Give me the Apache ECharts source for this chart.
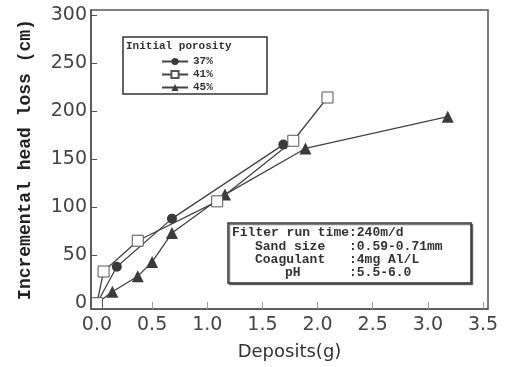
<!DOCTYPE html>
<html>
<head>
<meta charset="utf-8">
<script src="https://cdn.jsdelivr.net/npm/echarts@6/dist/echarts.min.js"></script>
<style>
  html, body { margin: 0; padding: 0; background: #fff; }
  #chart { width: 508px; height: 367px; }
</style>
</head>
<body>
<div id="chart"></div>
<script>
"use strict";

// deposits (g) vs incremental head loss (cm)
var por37 = [[0, 0], [0.18, 38], [0.68, 88], [1.69, 165]];
var por41 = [[0, 0], [0.06, 33], [0.37, 65], [1.09, 106], [1.78, 169], [2.09, 214]];
var por45 = [[0, 0], [0.14, 12], [0.37, 28], [0.50, 43], [0.68, 73], [1.16, 113], [1.89, 161], [3.18, 194]];
var seriesNames = ['37%', '41%', '45%'];
var xTicks = [0, 0.5, 1.0, 1.5, 2.0, 2.5, 3.0, 3.5];
var yTicks = [0, 50, 100, 150, 200, 250, 300];

var mono = '"Liberation Mono", "DejaVu Sans Mono", monospace';
var sans = '"DejaVu Sans", sans-serif';
var ink = '#333';

var dom = document.getElementById("chart");
var myChart = echarts.init(dom);

var option = {
    animation: false,
    backgroundColor: '#fff',
    grid: {
        left: 91,
        right: 20,
        top: 10,
        bottom: 58,
        show: true,
        borderColor: '#555',
        borderWidth: 1.5
    },
    legend: {
        orient: 'vertical',
        left: 156,
        top: 51,
        itemGap: 2,
        itemWidth: 26,
        itemHeight: 9,
        data: seriesNames,
        textStyle: { fontFamily: mono, fontWeight: 'bold', fontSize: 11, color: ink }
    },
    xAxis: {
        type: 'value',
        min: -0.054,
        max: 3.545,
        name: 'Deposits(g)',
        nameLocation: 'middle',
        nameGap: 34,
        nameTextStyle: { fontFamily: sans, fontSize: 18, color: '#333' },
        axisLine: { onZero: false, lineStyle: { color: '#555', width: 1.5 } },
        axisTick: { inside: true, length: 7, customValues: xTicks, lineStyle: { color: '#999' } },
        splitLine: { show: false },
        axisLabel: {
            margin: 7,
            fontFamily: sans,
            fontSize: 19,
            color: '#444',
            customValues: xTicks,
            formatter: function (v) { return v.toFixed(1); }
        }
    },
    yAxis: {
        type: 'value',
        min: -6,
        max: 305,
        name: 'Incremental head loss (cm)',
        nameLocation: 'middle',
        nameGap: 57,
        nameTextStyle: { fontFamily: mono, fontWeight: 'bold', fontSize: 18, color: '#222' },
        axisLine: { onZero: false, lineStyle: { color: '#555', width: 1.5 } },
        axisTick: { inside: true, length: 6, customValues: yTicks, lineStyle: { color: '#555' } },
        splitLine: { show: false },
        axisLabel: {
            margin: 4,
            fontFamily: sans,
            fontSize: 19,
            color: '#444',
            customValues: yTicks
        }
    },
    series: [
        {
            name: seriesNames[0],
            type: 'line',
            data: por37,
            symbol: 'circle',
            symbolSize: 10,
            itemStyle: { color: '#3a3a3a' },
            lineStyle: { color: '#444', width: 1.3 },
            z: 3
        },
        {
            name: seriesNames[1],
            type: 'line',
            data: por41,
            symbol: 'rect',
            symbolSize: 11,
            itemStyle: { color: '#fff', borderColor: '#555', borderWidth: 1 },
            lineStyle: { color: '#444', width: 1.3 },
            z: 4
        },
        {
            name: seriesNames[2],
            type: 'line',
            data: por45,
            symbol: 'triangle',
            symbolSize: 12,
            itemStyle: { color: '#3a3a3a' },
            lineStyle: { color: '#444', width: 1.3 },
            z: 2
        }
    ],
    graphic: [
        // legend frame and title
        {
            type: 'rect',
            shape: { x: 123, y: 37, width: 144, height: 57 },
            style: { fill: 'rgba(0,0,0,0)', stroke: '#333', lineWidth: 1.5 },
            z: 10
        },
        {
            type: 'text',
            left: 126,
            top: 41,
            style: { text: 'Initial porosity', font: 'bold 11px ' + mono, fill: ink },
            z: 10
        },
        // run condition box
        {
            type: 'rect',
            shape: { x: 228, y: 223, width: 243, height: 60 },
            style: { fill: '#fff', stroke: '#333', lineWidth: 1.5, shadowColor: 'rgba(0,0,0,0.5)', shadowOffsetX: 1.5, shadowOffsetY: 1.5 },
            z: 10
        },
        {
            type: 'text',
            left: 232,
            top: 226,
            style: { text: 'Filter run time:240m/d', font: 'bold 13px ' + mono, fill: ink },
            z: 11
        },
        {
            type: 'text',
            left: 255,
            top: 240,
            style: { text: 'Sand size', font: 'bold 13px ' + mono, fill: ink },
            z: 11
        },
        {
            type: 'text',
            left: 255,
            top: 253,
            style: { text: 'Coagulant', font: 'bold 13px ' + mono, fill: ink },
            z: 11
        },
        {
            type: 'text',
            left: 285,
            top: 266,
            style: { text: 'pH', font: 'bold 13px ' + mono, fill: ink },
            z: 11
        },
        {
            type: 'text',
            left: 349,
            top: 240,
            style: { text: ':0.59-0.71mm', font: 'bold 13px ' + mono, fill: ink },
            z: 11
        },
        {
            type: 'text',
            left: 349,
            top: 253,
            style: { text: ':4mg Al/L', font: 'bold 13px ' + mono, fill: ink },
            z: 11
        },
        {
            type: 'text',
            left: 349,
            top: 266,
            style: { text: ':5.5-6.0', font: 'bold 13px ' + mono, fill: ink },
            z: 11
        }
    ]
};

if (option && typeof option === 'object') {
    myChart.setOption(option);
}
</script>
</body>
</html>
